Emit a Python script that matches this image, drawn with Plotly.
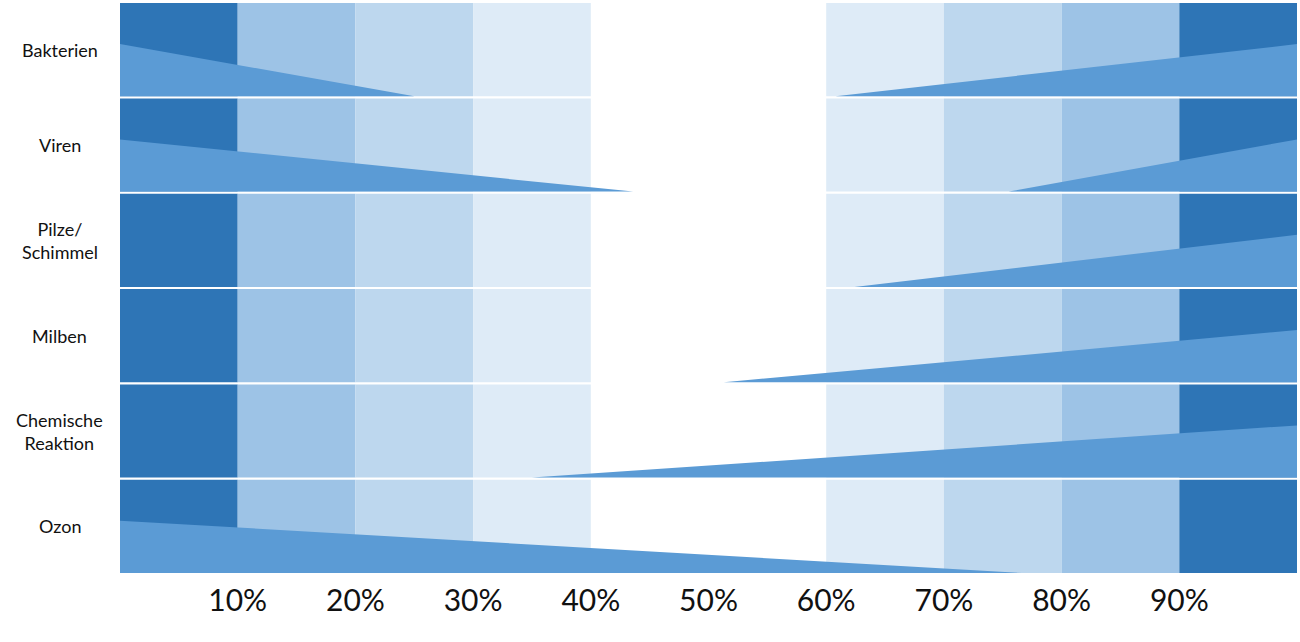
import plotly.graph_objects as go

# rows, top to bottom
rows = ["Bakterien", "Viren", "Pilze/<br>Schimmel", "Milben", "Chemische<br>Reaktion", "Ozon"]

# background bands (percent)
band_start = [0, 10, 20, 30, 60, 70, 80, 90]
band_colors = ["#2E75B6", "#9DC3E6", "#BDD7EE", "#DEEBF7",
               "#DEEBF7", "#BDD7EE", "#9DC3E6", "#2E75B6"]

# wedge ends (percent), None = no wedge on that side
left_tip = [25.0, 43.6, None, None, None, 76.6]
right_start = [60.8, 75.5, 62.4, 51.3, 35.0, None]

xticks = [10, 20, 30, 40, 50, 60, 70, 80, 90]
xtick_labels = ["10%", "20%", "30%", "40%", "50%", "60%", "70%", "80%", "90%"]

bar_w = 0.978
wedge_h = 0.56 * bar_w
wedge_color = "#5B9BD5"

fig = go.Figure()

ypos = list(range(len(rows)))
for s, c in zip(band_start, band_colors):
    fig.add_trace(go.Bar(
        y=ypos, x=[10] * len(rows), base=[s] * len(rows),
        orientation="h", width=bar_w,
        marker=dict(color=c, line=dict(width=0)),
        hoverinfo="skip", showlegend=False))

for i in ypos:
    bottom = i + bar_w / 2
    if left_tip[i] is not None:
        fig.add_trace(go.Scatter(
            x=[0, 0, left_tip[i], 0], y=[bottom, bottom - wedge_h, bottom, bottom],
            fill="toself", fillcolor=wedge_color, mode="lines",
            line=dict(width=0, color=wedge_color),
            hoverinfo="skip", showlegend=False))
    if right_start[i] is not None:
        fig.add_trace(go.Scatter(
            x=[100, 100, right_start[i], 100], y=[bottom, bottom - wedge_h, bottom, bottom],
            fill="toself", fillcolor=wedge_color, mode="lines",
            line=dict(width=0, color=wedge_color),
            hoverinfo="skip", showlegend=False))

# row labels centred in the left margin
for i, name in enumerate(rows):
    fig.add_annotation(text=name, xref="paper", yref="y", x=-0.051, y=i,
                       xanchor="center", yanchor="middle", align="center",
                       showarrow=False, font=dict(size=18, color="#111111"))

fig.update_layout(
    width=1300, height=642,
    margin=dict(l=120, r=3, t=2, b=68),
    plot_bgcolor="white", paper_bgcolor="white",
    barmode="overlay",
    font=dict(family="Lato, Open Sans, sans-serif", color="#111111"),
)
fig.update_xaxes(range=[0, 100], tickvals=xticks, ticktext=xtick_labels,
                 showgrid=False, zeroline=False, showline=False, ticks="",
                 tickfont=dict(size=30, color="#111111"), ticklabelstandoff=6)
fig.update_yaxes(range=[len(rows) - 0.5, -0.5], showticklabels=False,
                 showgrid=False, zeroline=False, showline=False, ticks="")

# page has a default body margin, drop it so the figure sits at 0,0
fig.write_html("out.html", config={"displayModeBar": False},
               post_script="document.body.style.margin='0';")
